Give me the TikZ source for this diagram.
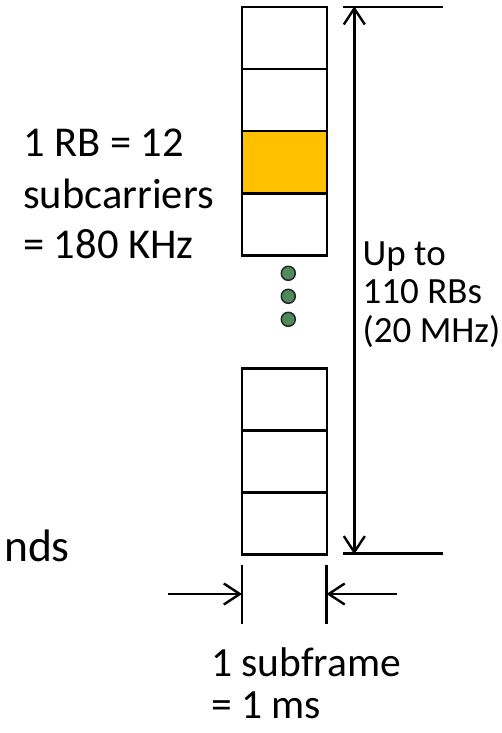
\documentclass[tikz,border=0pt]{standalone}
\usepackage{fontspec}
\setmainfont{Carlito}
\usetikzlibrary{arrows.meta}
\definecolor{rbgold}{HTML}{FFC000}
\definecolor{dotgreen}{HTML}{4F8A5B}
\tikzset{barb/.tip={Straight Barb[length=16pt,width=21pt,line width=2.4pt]}}
\begin{document}
\begin{tikzpicture}[x=1pt,y=-1pt,
  rb/.style={draw=black, line width=2.4pt, minimum width=85pt, minimum height=62pt, inner sep=0pt, outer sep=0pt},
  dimline/.style={line width=2.4pt},
  dimarrow/.style={line width=2.4pt, -{barb}},
  dotmark/.style={circle, draw=black!85, fill=dotgreen, line width=1.5pt, minimum size=14pt, inner sep=0pt},
  lineL/.style={inner sep=0pt, anchor=base west, font=\fontsize{42.5}{51}\selectfont},
  lineR/.style={inner sep=0pt, anchor=base west, font=\fontsize{37}{39}\selectfont},
  lineB/.style={inner sep=0pt, anchor=base west, font=\fontsize{41.5}{42}\selectfont}]
\useasboundingbox (0,0) rectangle (501,733);

% upper block of resource blocks
\node[rb, anchor=north west] (b1) at (242,7.3) {};
\node[rb, anchor=north] (b2) at (b1.south) {};
\node[rb, anchor=north, fill=rbgold] (b3) at (b2.south) {};
\node[rb, anchor=north] (b4) at (b3.south) {};

% ellipsis dots
\node[dotmark] (d1) at (288.3,273.3) {};
\node[dotmark] (d2) at (288.3,296.3) {};
\node[dotmark] (d3) at (288.3,319.3) {};

% lower block of resource blocks
\node[rb, anchor=north west] (c1) at (242,368.3) {};
\node[rb, anchor=north] (c2) at (c1.south) {};
\node[rb, anchor=north] (c3) at (c2.south) {};

% bandwidth dimension
\coordinate (tl) at (343,7.3);
\coordinate (tr) at (443,7.3);
\coordinate (bl) at (343,553.3);
\coordinate (br) at (443,553.3);
\coordinate (atop) at (354.3,7.3);
\coordinate (abot) at (354.3,553.3);
\draw[dimline] (tl) -- (tr);
\draw[dimline] (bl) -- (br);
\draw[dimline, {barb}-{barb}] ([yshift=1pt]atop) -- ([yshift=-1pt]abot);

% subframe width dimension
\coordinate (t1a) at (242,565);
\coordinate (t1b) at (242,624);
\coordinate (t2a) at (326.5,565);
\coordinate (t2b) at (326.5,624);
\draw[dimline] (t1a) -- (t1b);
\draw[dimline] (t2a) -- (t2b);
\coordinate (la) at (168,594);
\coordinate (lb) at (242,594);
\coordinate (ra) at (397,594);
\coordinate (rbx) at (326.5,594);
\draw[dimarrow] (la) -- (lb);
\draw[dimarrow] (ra) -- (rbx);

% labels
\node[lineL] (rb1) at (23,156) {1 RB = 12};
\node[lineL] (rb2) at (23,208) {subcarriers};
\node[lineL] (rb3) at (23,258.5) {= 180 KHz};
\node[lineR] (up1) at (362.5,265) {Up to};
\node[lineR] (up2) at (362.5,303.5) {110 RBs};
\node[lineR] (up3) at (362.5,342) {(20 MHz)};
\node[lineB] (sf1) at (211,676.7) {1 subframe};
\node[lineB] (sf2) at (211,718) {= 1 ms};
\node[inner sep=0pt, anchor=base west, font=\fontsize{45.5}{50}\selectfont] (ndstext) at (4,561.7) {nds};
\end{tikzpicture}
\end{document}
